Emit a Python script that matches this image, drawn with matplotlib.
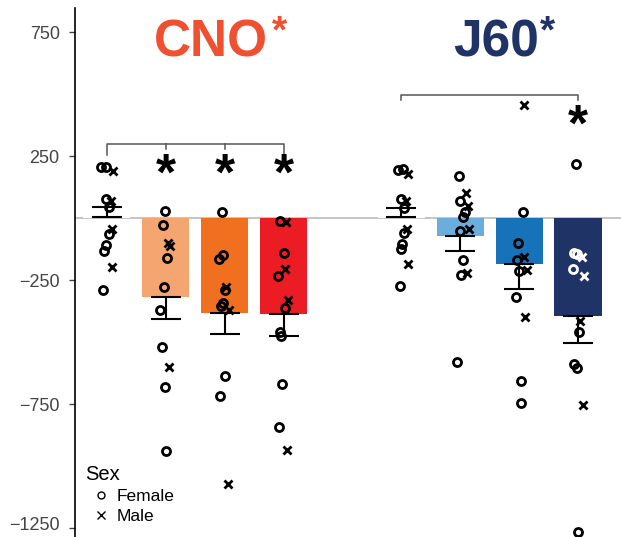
import numpy as np
import matplotlib.pyplot as plt
import matplotlib.transforms as mtransforms
from matplotlib.lines import Line2D

plt.rcParams['font.family'] = ['Liberation Sans', 'DejaVu Sans']

# group / bar info
labels = ['CNO ctrl', 'CNO 1', 'CNO 2', 'CNO 3', 'J60 ctrl', 'J60 1', 'J60 2', 'J60 3']
slots = [0, 1, 2, 3, 5, 6, 7, 8]
means = [3, -319, -383, -387, 3, -73, -185, -395]
sems = [41, 88, 85, 89, 37, 60, 101, 109]
bar_colors = ['white', '#F5A670', '#F07020', '#EC1C24', 'white', '#6BAEDE', '#1673BA', '#1F3366']

# individual animals: values and x jitter (in slot units)
fem_vals = [
    [206, 206, 77, 44, -65, -109, -133, -290],
    [28, -28, -161, -278, -371, -520, -683, -939],
    [26, -163, -148, -290, -343, -354, -637, -718],
    [-13, -141, -232, -362, -458, -474, -671, -841],
    [194, 196, 75, 42, -59, -104, -126, -274],
    [169, 67, 24, 3, -52, -167, -228, -581],
    [23, -99, -167, -212, -317, -656, -745],
    [218, -140, -145, -206, -458, -590, -605, -1265],
]
fem_jit = [
    [-0.10, -0.01, -0.02, 0.03, 0.03, -0.01, -0.04, -0.07],
    [-0.02, -0.05, 0.02, -0.03, -0.09, -0.07, -0.02, 0.00],
    [-0.05, -0.10, -0.03, 0.00, -0.02, -0.06, 0.00, -0.08],
    [-0.06, 0.00, -0.10, 0.02, -0.06, -0.04, -0.02, -0.08],
    [-0.05, 0.03, 0.00, 0.05, 0.05, 0.02, -0.01, -0.02],
    [-0.02, 0.00, 0.08, 0.04, 0.00, 0.04, 0.02, -0.05],
    [0.06, -0.02, -0.04, 0.00, -0.05, 0.03, 0.04],
    [-0.04, -0.06, -0.01, -0.08, 0.02, -0.07, -0.01, 0.00],
]
male_vals = [
    [190, 70, -44, -198],
    [-100, -113, -601],
    [-277, -371, -1073],
    [-16, -207, -331, -934],
    [179, 67, -43, -187],
    [102, 48, -43, -223],
    [456, -156, -210, -400],
    [-156, -234, -414, -755],
]
male_jit = [
    [0.10, 0.07, 0.08, 0.09],
    [0.04, 0.08, 0.06],
    [0.03, 0.08, 0.06],
    [0.04, 0.03, 0.08, 0.06],
    [0.12, 0.08, 0.10, 0.12],
    [0.10, 0.14, 0.15, 0.11],
    [0.09, 0.08, 0.13, 0.10],
    [0.06, 0.11, 0.04, 0.08],
]

cno_color = '#EE5030'
j60_color = '#1F3366'

fig = plt.figure(figsize=(6.21, 5.37), dpi=100)
ax = fig.add_axes([0.1208, 0.0, 0.8792, 0.985])

ax.axhline(0, color='#BBBBBB', lw=1.2, zorder=1)
ax.bar(slots, means, width=0.8, color=bar_colors, zorder=2)

for i, s in enumerate(slots):
    m = means[i]
    if m >= 0:
        yerr = [[0], [sems[i]]]
    else:
        yerr = [[sems[i]], [0]]
    ax.errorbar(s, m, yerr=yerr, fmt='none', ecolor='black', elinewidth=1.5,
                capsize=10.5, capthick=1.5, zorder=3)
    dark = bar_colors[i] == '#1F3366'
    for v, j in zip(fem_vals[i], fem_jit[i]):
        c = 'white' if dark and m < v < 0 else 'black'
        ax.plot(s + j, v, 'o', ms=5.8, mfc='none', mec=c, mew=2.0, zorder=4)
    for v, j in zip(male_vals[i], male_jit[i]):
        c = 'white' if dark and m < v < 0 else 'black'
        ax.plot(s + j, v, 'x', ms=6.2, mec=c, mew=2.0, zorder=4)

# significance brackets
ax.plot([0, 0, 3, 3], [255, 300, 300, 255], color='#555555', lw=1.1)
ax.plot([1, 1], [300, 280], color='#555555', lw=1.1)
ax.plot([2, 2], [300, 280], color='#555555', lw=1.1)
ax.plot([5, 5, 8, 8], [475, 495, 495, 475], color='#555555', lw=1.1)
for s in [1, 2, 3]:
    ax.text(s, 170, '*', ha='center', va='center', fontsize=37, fontweight='bold')
ax.text(8, 365, '*', ha='center', va='center', fontsize=37, fontweight='bold')

# group titles
ax.text(1.76, 705, 'CNO', ha='center', va='center', fontsize=37, fontweight='bold',
        color=cno_color)
ax.text(2.93, 749, '*', ha='center', va='center', fontsize=28, fontweight='bold', color=cno_color)
ax.text(6.61, 705, 'J60', ha='center', va='center', fontsize=37, fontweight='bold',
        color=j60_color)
ax.text(7.49, 749, '*', ha='center', va='center', fontsize=28, fontweight='bold', color=j60_color)

# legend
ax.text(0.018, 0.107, 'Sex', transform=ax.transAxes, fontsize=14.5, va='baseline', ha='left')
handles = [Line2D([], [], ls='none', marker='o', ms=5, mfc='none', mec='black', mew=1.0),
           Line2D([], [], ls='none', marker='x', ms=6, mec='black', mew=1.0)]
ax.legend(handles, ['Female', 'Male'], loc='upper left', bbox_to_anchor=(0.029, 0.091),
          frameon=False, fontsize=12.5, handletextpad=0.3, labelspacing=0.3,
          handlelength=1.2, borderaxespad=0, borderpad=0)

ax.set_xlim(-0.54, 8.73)
ax.set_ylim(-1286, 847)
ax.set_yticks([750, 250, -250, -750, -1250])
ax.tick_params(axis='y', labelsize=13, length=4, width=1, colors='#444444', pad=7)
ax.set_xticks([])
for side in ['top', 'right', 'bottom']:
    ax.spines[side].set_visible(False)
ax.spines['left'].set_linewidth(1.2)

# lift the lowest tick label a touch so it stays inside the figure
lowest = ax.get_yticklabels()[-1]
lowest.set_transform(lowest.get_transform() +
                     mtransforms.ScaledTranslation(0, 3 / 72, fig.dpi_scale_trans))

plt.savefig('out.png', dpi=100)
